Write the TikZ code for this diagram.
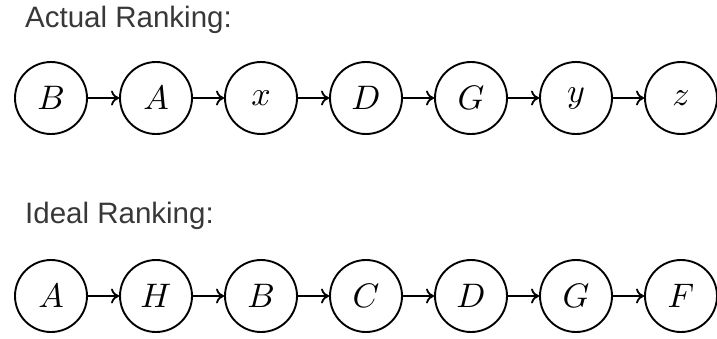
\documentclass[tikz,border=0pt]{standalone}
\usepackage{graphicx}
\usepackage{fontspec}
\setmainfont{Liberation Sans}
\usetikzlibrary{arrows.meta}
% math letter inside a ranking circle, blown up from the 10pt design size
\newcommand{\rankletter}[1]{\scalebox{3.4}{$#1$}}
\begin{document}
\begin{tikzpicture}[x=1pt,y=-1pt,
  rankitem/.style={circle,draw,line width=1.9pt,minimum size=72pt,inner sep=0pt,
    font=\fontsize{10}{12}\selectfont},
  rankarrow/.style={-{To[length=8pt,width=15pt,line width=1.8pt]},line width=1.7pt},
  heading/.style={anchor=base west,inner sep=0pt,text=black!78,
    font=\fontsize{29.5}{34}\selectfont}]
  \useasboundingbox (0,0) rectangle (717,338);
  \clip (0,0) rectangle (717,338);

  % first row
  \node[heading] (h1) at (25,27) {Actual Ranking:};
  \foreach \lab [count=\i] in {B,A,x,D,G,y,z}
    \node[rankitem] (a\i) at ({51+105*(\i-1)},98) {\rankletter{\lab}};
  \foreach \i [evaluate=\i as \j using int(\i+1)] in {1,...,6}
    \draw[rankarrow] (a\i) -- (a\j);

  % second row
  \node[heading] (h2) at (25,223) {Ideal Ranking:};
  \foreach \lab [count=\i] in {A,H,B,C,D,G,F}
    \node[rankitem] (b\i) at ({51+105*(\i-1)},296) {\rankletter{\lab}};
  \foreach \i [evaluate=\i as \j using int(\i+1)] in {1,...,6}
    \draw[rankarrow] (b\i) -- (b\j);
\end{tikzpicture}
\end{document}
